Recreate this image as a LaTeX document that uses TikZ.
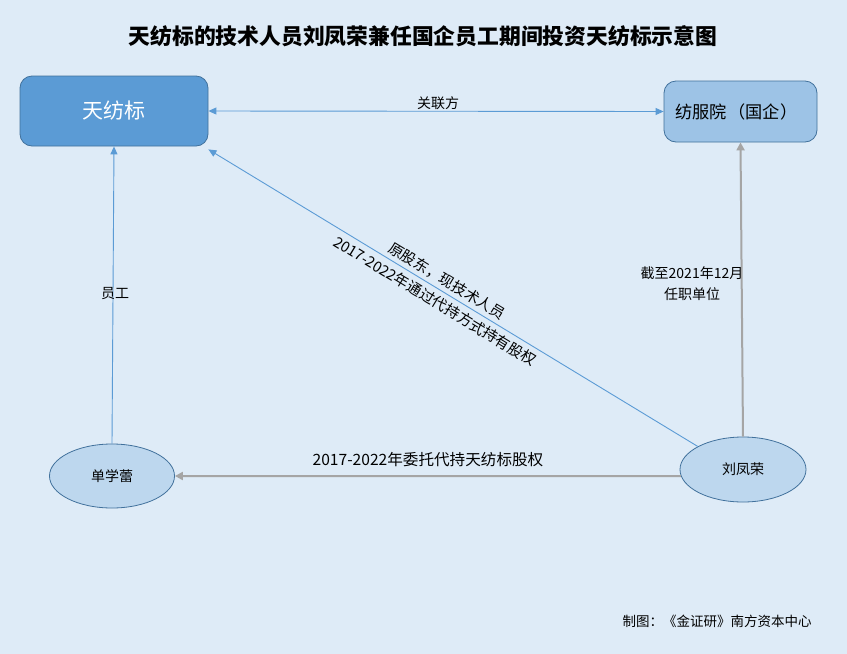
\documentclass[tikz,border=0pt]{standalone}
\usepackage{fontspec}
\setmainfont{Noto Sans CJK SC}
\usetikzlibrary{arrows.meta,shapes.geometric}
\definecolor{bg}{HTML}{DEEBF7}
\definecolor{dblue}{HTML}{5B9BD5}
\definecolor{lblue}{HTML}{9DC3E6}
\definecolor{pblue}{HTML}{BDD7EE}
\definecolor{edge}{HTML}{41719C}
\definecolor{gline}{HTML}{A5A5A5}
\tikzset{
  rbox/.style={draw=edge, line width=0.8pt, rounded corners=12pt, inner sep=0pt},
  oval/.style={ellipse, draw=edge, line width=0.8pt, fill=pblue, inner sep=0pt, font=\fontsize{14}{16}\selectfont},
  bluearrow/.style={draw=dblue, line width=0.9pt, -{Triangle[length=8pt,width=7pt]}},
  grayarrow/.style={draw=gline, line width=2pt, -{Triangle[length=8pt,width=8pt]}},
  lbl/.style={font=\fontsize{14}{18}\selectfont, inner sep=1pt},
  slbl/.style={font=\fontsize{14.8}{18}\selectfont, inner sep=0pt, rotate=-31.3},
}
\begin{document}
\begin{tikzpicture}[x=1pt,y=-1pt]
\fill[bg] (0,0) rectangle (847,654);
\useasboundingbox (0,0) rectangle (847,654);
\node[font=\fontsize{21.8}{24}\selectfont\bfseries] (title) at (423,36) {天纺标的技术人员刘凤荣兼任国企员工期间投资天纺标示意图};
\node[rbox, fill=dblue, minimum width=188pt, minimum height=70pt, text=white, font=\fontsize{21}{24}\selectfont] (tfb) at (114,111) {天纺标};
\node[rbox, fill=lblue, minimum width=153pt, minimum height=61pt, text width=131pt, align=left, font=\fontsize{17.2}{20}\selectfont] (ffy) at (740.5,111.5) {纺服院\hspace{2pt}（国企）};
\node[oval, minimum width=125pt, minimum height=64pt] (sxl) at (112,476) {单学蕾};
\node[oval, minimum width=126pt, minimum height=65pt] (lfr) at (743,469.5) {刘凤荣};
\draw[draw=dblue, line width=0.9pt, {Triangle[length=8pt,width=7pt]}-{Triangle[length=8pt,width=7pt]}] (tfb.east) -- (ffy.west);
\node[lbl] (l1) at (438,103) {关联方};
\draw[bluearrow] (sxl.north) -- (tfb.south);
\node[lbl] (l2) at (115,294) {员工};
\draw[bluearrow] (lfr.153) -- ([yshift=-3pt]tfb.south east);
\node[slbl] (l3) at (447,281) {原股东，现技术人员};
\node[slbl] (l4) at (435,301) {2017-2022年通过代持方式持有股权};
\draw[grayarrow] (lfr.186) -- (sxl.east);
\node[lbl, font=\fontsize{15.6}{18}\selectfont] (l5) at (428,460) {2017-2022年委托代持天纺标股权};
\draw[grayarrow] (lfr.north) -- (ffy.south);
\node[lbl, align=center, font=\fontsize{14}{21}\selectfont] (l6) at (692,284) {截至2021年12月\\任职单位};
\node[font=\fontsize{13.5}{16}\selectfont] (foot) at (717,621) {制图：《金证研》南方资本中心};
\end{tikzpicture}
\end{document}
